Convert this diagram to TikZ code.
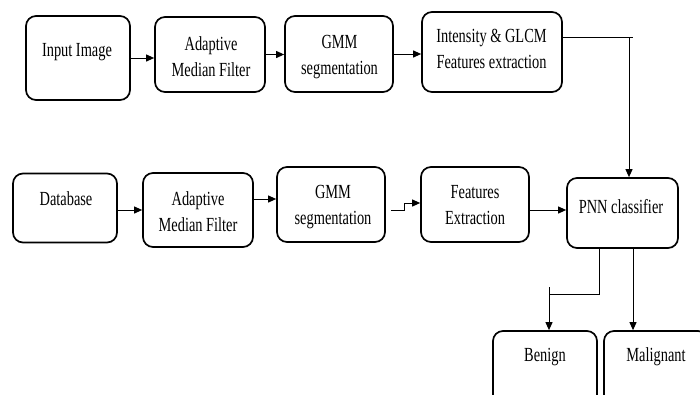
\documentclass[tikz,border=0pt]{standalone}
\usepackage{fontspec}
\setmainfont{Liberation Serif}[FakeStretch=0.72]
\usetikzlibrary{arrows.meta,calc}
\begin{document}
\begin{tikzpicture}[x=1pt,y=-1pt,
  box/.style={draw=black,line width=1.7pt,rounded corners=10pt,inner sep=0pt},
  txt/.style={align=center,inner sep=0pt,font=\fontsize{20}{26}\selectfont},
  conn/.style={draw=black,line width=1pt},
  arr/.style={conn,-{Triangle[length=8pt,width=7pt]}}]
\path[use as bounding box,clip] (0,0) rectangle (700,394);
\fill[white] (0,0) rectangle (700,394);
% top row
\node[box,minimum width=104pt,minimum height=84pt] (in1) at (78,58) {};
\node[txt] (in1t) at (77,52) {Input Image};
\node[box,minimum width=110pt,minimum height=75pt] (amf1) at (210,54.5) {};
\node[txt] (amf1t) at (211,57) {Adaptive\\Median Filter};
\node[box,minimum width=108pt,minimum height=76pt] (gmm1) at (339,54) {};
\node[txt] (gmm1t) at (339.5,57) {GMM\\segmentation};
\node[box,minimum width=140pt,minimum height=80pt] (feat1) at (492,52) {};
\node[txt] (feat1t) at (491.5,49) {Intensity \& GLCM\\Features extraction};
% bottom row
\node[box,minimum width=104pt,minimum height=69pt] (db) at (65,208) {};
\node[txt] (dbt) at (66,199) {Database};
\node[box,minimum width=110pt,minimum height=74pt] (amf2) at (198,210) {};
\node[txt] (amf2t) at (198,212) {Adaptive\\Median Filter};
\node[box,minimum width=108pt,minimum height=75pt] (gmm2) at (331,204.5) {};
\node[txt] (gmm2t) at (333,207) {GMM\\segmentation};
\node[box,minimum width=108pt,minimum height=75pt] (fe) at (475,204.5) {};
\node[txt] (fet) at (475,205) {Features\\Extraction};
\node[box,minimum width=111pt,minimum height=70pt] (pnn) at (622.5,213) {};
\node[txt] (pnnt) at (621,207) {PNN classifier};
\node[box,minimum width=104pt,minimum height=100pt] (ben) at (545,381) {};
\node[txt] (bent) at (545,357) {Benign};
\node[box,minimum width=104pt,minimum height=100pt] (mal) at (656,381) {};
\node[txt] (malt) at (656,357) {Malignant};
% helper coordinates
\coordinate (ydb) at (0,210);
\coordinate (yag) at (0,199);
\coordinate (yfe) at (0,210);
\coordinate (k1) at (633,37);
\coordinate (k2) at (629,37);
\coordinate (s1) at ($(gmm2.east|-yfe)+(5,0)$);
\coordinate (s2) at (404,210);
\coordinate (s3) at (404,203);
\coordinate (b1) at (599,0);
\coordinate (b2) at (599,294);
\coordinate (b3) at (549,294);
\coordinate (b4) at (549,287);
\coordinate (m1) at (633,0);
% connectors top
\draw[arr] (in1.east) -- (in1.east -| amf1.west);
\draw[arr] (amf1.east) -- (amf1.east -| gmm1.west);
\draw[arr] (gmm1.east) -- (gmm1.east -| feat1.west);
\draw[conn] (feat1.east |- k1) -- (k1);
\draw[arr] (k2) -- (k2 |- pnn.north);
% connectors bottom
\draw[arr] (db.east |- ydb) -- (amf2.west |- ydb);
\draw[arr] (amf2.east |- yag) -- (gmm2.west |- yag);
\draw[arr] (s1) -- (s2) -- (s3) -- (s3 -| fe.west);
\draw[arr] (fe.east |- yfe) -- (pnn.west |- yfe);
\draw[conn] (b1 |- pnn.south) -- (b2) -- (b3);
\draw[arr] (b4) -- (b4 |- ben.north);
\draw[arr] (m1 |- pnn.south) -- (m1 |- mal.north);
\end{tikzpicture}
\end{document}
